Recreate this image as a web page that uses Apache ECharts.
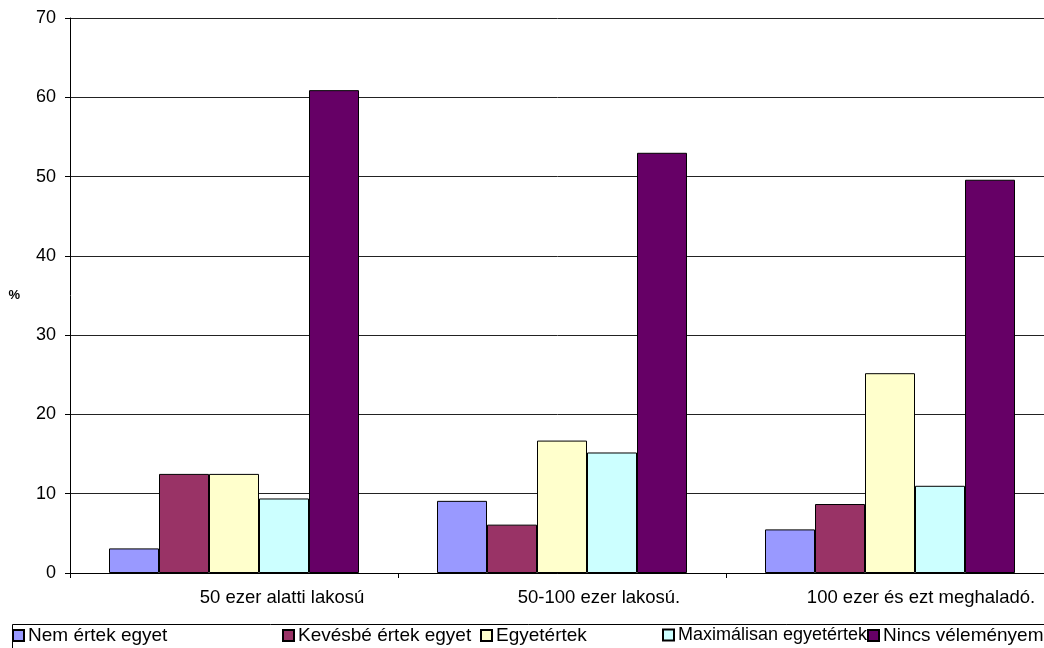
<!DOCTYPE html>
<html>
<head>
<meta charset="utf-8">
<style>
  html, body { margin: 0; padding: 0; background: #fff; }
  #chart { width: 1044px; height: 648px; }
</style>
<script src="https://cdn.jsdelivr.net/npm/echarts@6/dist/echarts.min.js"></script>
</head>
<body>
<div id="chart"></div>
<script>
// Településméret szerinti megoszlás (%)
const categories = ['50 ezer alatti lakosú', '50-100 ezer lakosú.', '100 ezer és ezt meghaladó.'];
const seriesNames = ['Nem értek egyet', 'Kevésbé értek egyet', 'Egyetértek', 'Maximálisan egyetértek', 'Nincs véleményem'];
const nemErtekEgyet = [3.1, 9.1, 5.5];
const kevesbeErtekEgyet = [12.5, 6.1, 8.7];
const egyetertek = [12.5, 16.7, 25.2];
const maximalisanEgyetertek = [9.4, 15.2, 11.0];
const nincsVelemenyem = [60.9, 53.0, 49.6];
const yTicks = [0, 10, 20, 30, 40, 50, 60, 70];

const seriesValues = [nemErtekEgyet, kevesbeErtekEgyet, egyetertek, maximalisanEgyetertek, nincsVelemenyem];
const colors = ['#9999FF', '#993366', '#FFFFCC', '#CCFFFF', '#660066'];
const legendLeft = [12, 282, 480, 662, 867];
const legendFont = [19, 19, 19, 18, 19];
const labelShift = [96, 74, 62];

const font = '"Liberation Sans", Arial, sans-serif';

const chart = echarts.init(document.getElementById('chart'), null, { renderer: 'canvas' });

const rich = {};
labelShift.forEach((p, i) => {
  rich['c' + i] = { fontFamily: font, fontSize: 18.5, color: '#000', padding: [0, 0, 0, p] };
});

chart.setOption({
  animation: false,
  backgroundColor: '#fff',
  grid: { left: 70, top: 18, bottom: 75, width: 984, containLabel: false, outerBoundsMode: 'none' },
  xAxis: {
    type: 'category',
    data: categories,
    axisLine: { lineStyle: { color: '#000', width: 1 } },
    axisTick: { show: true, length: 5, lineStyle: { color: '#000' } },
    axisLabel: {
      margin: 15,
      formatter: (v, i) => '{c' + i + '|' + v + '}',
      rich: rich
    },
    splitLine: { show: false }
  },
  yAxis: {
    type: 'value',
    min: yTicks[0],
    max: yTicks[yTicks.length - 1],
    interval: 10,
    name: '%',
    nameLocation: 'middle',
    nameRotate: 0,
    nameGap: 50,
    nameTextStyle: { fontFamily: font, fontSize: 13, fontWeight: 'bold', color: '#000' },
    axisLine: { show: true, lineStyle: { color: '#000', width: 1 } },
    axisTick: { show: true, length: 5, lineStyle: { color: '#000' } },
    axisLabel: { margin: 14, fontFamily: font, fontSize: 18, color: '#000' },
    splitLine: { show: true, lineStyle: { color: '#222', width: 1 } }
  },
  legend: seriesNames.map((name, i) => ({
    data: [name],
    left: legendLeft[i],
    top: 626,
    itemWidth: 11,
    itemHeight: 11,
    itemGap: 0,
    icon: 'rect',
    padding: 0,
    selectedMode: false,
    z: 4 + i,
    textStyle: { fontFamily: font, fontSize: legendFont[i], color: '#000', padding: [0, 0, 0, -1] }
  })),
  graphic: [{
    type: 'rect',
    left: 10,
    top: 622,
    shape: { width: 1100, height: 60 },
    style: { fill: 'none', stroke: '#000', lineWidth: 1 },
    z: -1
  }],
  series: seriesNames.map((name, i) => ({
    name: name,
    type: 'bar',
    data: seriesValues[i],
    barWidth: 50,
    barGap: '0%',
    itemStyle: { color: colors[i], borderColor: '#000', borderWidth: 1 }
  }))
});
</script>
</body>
</html>
